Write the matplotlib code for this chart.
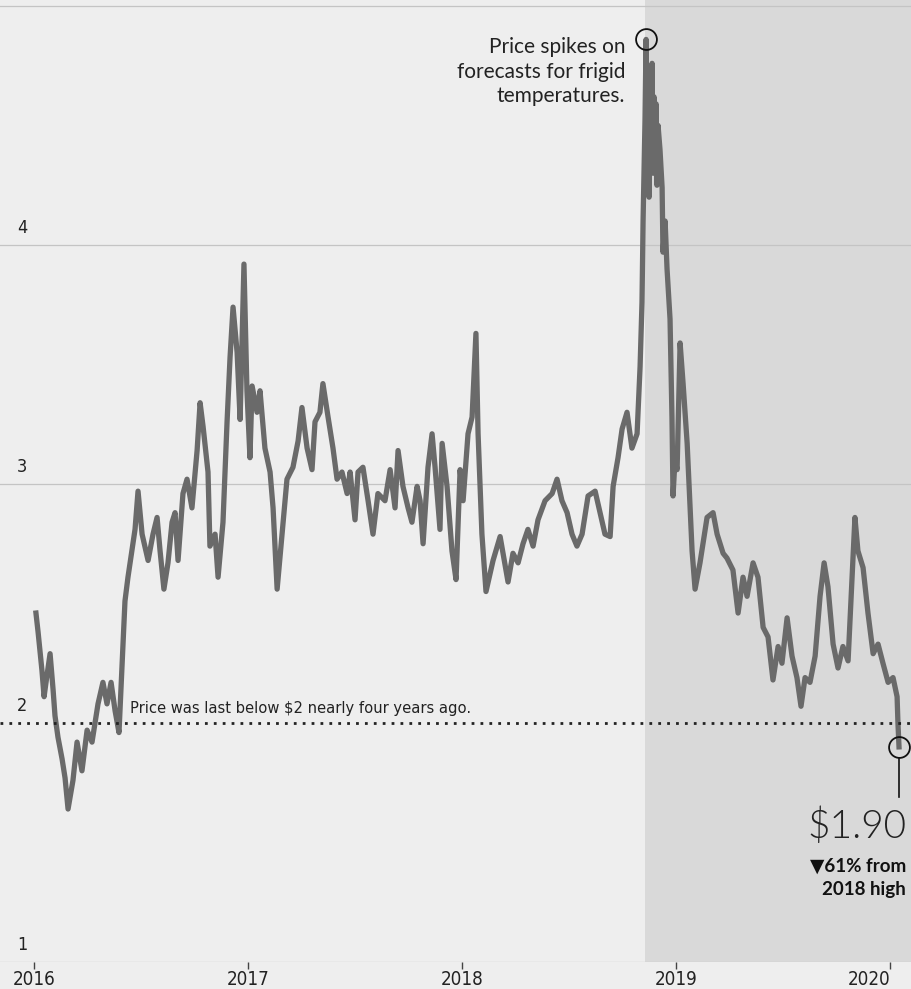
import matplotlib.pyplot as plt
from matplotlib.transforms import blended_transform_factory

# front-month natural gas price, $/MMBtu, x = decimal year
years = [2016.009, 2016.019, 2016.028, 2016.037, 2016.047, 2016.056, 2016.075, 2016.089,
         2016.098, 2016.112, 2016.131, 2016.145, 2016.159, 2016.182, 2016.201, 2016.224,
         2016.248, 2016.271, 2016.299, 2016.322, 2016.341, 2016.360, 2016.379, 2016.397,
         2016.411, 2016.425, 2016.439, 2016.472, 2016.486, 2016.505, 2016.533, 2016.556,
         2016.575, 2016.589, 2016.607, 2016.626, 2016.645, 2016.659, 2016.673, 2016.696,
         2016.715, 2016.738, 2016.762, 2016.776, 2016.790, 2016.813, 2016.822, 2016.846,
         2016.860, 2016.883, 2016.902, 2016.916, 2016.930, 2016.949, 2016.963, 2016.972,
         2016.981, 2016.995, 2017.009, 2017.019, 2017.042, 2017.056, 2017.079, 2017.103,
         2017.117, 2017.136, 2017.159, 2017.182, 2017.210, 2017.234, 2017.252, 2017.276,
         2017.299, 2017.313, 2017.336, 2017.350, 2017.374, 2017.397, 2017.416, 2017.439,
         2017.463, 2017.477, 2017.500, 2017.514, 2017.537, 2017.561, 2017.584, 2017.607,
         2017.640, 2017.664, 2017.687, 2017.701, 2017.724, 2017.748, 2017.766, 2017.790,
         2017.804, 2017.818, 2017.841, 2017.860, 2017.874, 2017.897, 2017.907, 2017.930,
         2017.953, 2017.972, 2017.991, 2018.005, 2018.028, 2018.047, 2018.065, 2018.075,
         2018.093, 2018.112, 2018.145, 2018.178, 2018.215, 2018.238, 2018.262, 2018.285,
         2018.308, 2018.332, 2018.355, 2018.388, 2018.421, 2018.444, 2018.467, 2018.491,
         2018.514, 2018.537, 2018.561, 2018.589, 2018.622, 2018.645, 2018.668, 2018.692,
         2018.706, 2018.729, 2018.748, 2018.771, 2018.794, 2018.818, 2018.832, 2018.841,
         2018.846, 2018.855, 2018.860, 2018.864, 2018.869, 2018.874, 2018.878, 2018.883,
         2018.888, 2018.893, 2018.897, 2018.902, 2018.907, 2018.911, 2018.916, 2018.925,
         2018.935, 2018.939, 2018.949, 2018.958, 2018.972, 2018.981, 2018.986, 2018.995,
         2019.005, 2019.019, 2019.033, 2019.052, 2019.075, 2019.089, 2019.112, 2019.145,
         2019.173, 2019.192, 2019.220, 2019.238, 2019.266, 2019.290, 2019.313, 2019.332,
         2019.360, 2019.383, 2019.407, 2019.430, 2019.453, 2019.477, 2019.495, 2019.519,
         2019.542, 2019.565, 2019.584, 2019.603, 2019.626, 2019.650, 2019.673, 2019.692,
         2019.710, 2019.734, 2019.757, 2019.780, 2019.804, 2019.822, 2019.836, 2019.850,
         2019.874, 2019.897, 2019.921, 2019.944, 2019.967, 2019.991, 2020.014, 2020.033,
         2020.037, 2020.042]
prices = [2.46, 2.38, 2.30, 2.22, 2.11, 2.17, 2.29, 2.14,
          2.03, 1.94, 1.85, 1.77, 1.64, 1.76, 1.92, 1.80,
          1.97, 1.92, 2.08, 2.17, 2.08, 2.17, 2.05, 1.96,
          2.23, 2.51, 2.61, 2.81, 2.97, 2.79, 2.68, 2.79,
          2.86, 2.72, 2.56, 2.67, 2.84, 2.88, 2.68, 2.96,
          3.02, 2.90, 3.14, 3.34, 3.24, 3.05, 2.74, 2.79,
          2.61, 2.84, 3.26, 3.53, 3.74, 3.55, 3.27, 3.60,
          3.92, 3.39, 3.11, 3.41, 3.30, 3.39, 3.15, 3.05,
          2.90, 2.56, 2.79, 3.02, 3.07, 3.18, 3.32, 3.15,
          3.06, 3.26, 3.30, 3.42, 3.28, 3.15, 3.02, 3.05,
          2.96, 3.05, 2.85, 3.05, 3.07, 2.93, 2.79, 2.96,
          2.93, 3.06, 2.90, 3.14, 2.99, 2.90, 2.84, 2.99,
          2.93, 2.75, 3.07, 3.21, 3.07, 2.81, 3.17, 2.99,
          2.72, 2.60, 3.06, 2.93, 3.21, 3.28, 3.63, 3.21,
          2.79, 2.55, 2.68, 2.78, 2.59, 2.71, 2.67, 2.75,
          2.81, 2.74, 2.85, 2.93, 2.96, 3.02, 2.93, 2.88,
          2.79, 2.74, 2.79, 2.95, 2.97, 2.88, 2.79, 2.78,
          2.99, 3.11, 3.23, 3.30, 3.15, 3.21, 3.49, 3.76,
          4.10, 4.52, 4.86, 4.35, 4.66, 4.20, 4.55, 4.40,
          4.76, 4.30, 4.62, 4.45, 4.59, 4.25, 4.50, 4.40,
          4.24, 3.97, 4.10, 3.90, 3.69, 3.28, 2.95, 3.10,
          3.06, 3.59, 3.42, 3.17, 2.72, 2.56, 2.67, 2.86,
          2.88, 2.79, 2.71, 2.69, 2.64, 2.46, 2.61, 2.53,
          2.67, 2.61, 2.40, 2.36, 2.18, 2.32, 2.25, 2.44,
          2.28, 2.19, 2.07, 2.19, 2.17, 2.28, 2.53, 2.67,
          2.57, 2.33, 2.23, 2.32, 2.26, 2.60, 2.86, 2.72,
          2.65, 2.46, 2.29, 2.33, 2.25, 2.17, 2.19, 2.11,
          2.00, 1.90]

year_ticks = [2016, 2017, 2018, 2019, 2020]
price_ticks = [1, 2, 3, 4]
shade_start = 2018.855   # darker panel from the November 2018 spike on
threshold = 2

narrow = dict(family=['DejaVu Sans'], stretch='condensed')
sans = ['Lato', 'DejaVu Sans']

fig = plt.figure(figsize=(9.11, 9.89), dpi=100, facecolor='#eeeeee')
ax = fig.add_axes([0, 27 / 989, 1, 962 / 989])
ax.set_facecolor('#eeeeee')
ax.set_xlim(2015.841, 2020.098)
ax.set_ylim(1, 5.025)
for s in ax.spines.values():
    s.set_visible(False)

ax.axvspan(shade_start, 2020.2, color='#d9d9d9', zorder=0, lw=0)

# gridlines + labels sitting on top of them
ytrans = blended_transform_factory(ax.transAxes, ax.transData)
ax.axhline(5, color='#c4c4c4', lw=0.9, zorder=1)
for v in price_ticks:
    if v != threshold:
        ax.axhline(v, color='#c4c4c4', lw=0.9, zorder=1)
    ax.text(0.019, v + 0.035, str(v), transform=ytrans, fontsize=13,
            va='bottom', ha='left', color='#222222', **narrow)
ax.set_yticks([])

ax.set_xticks(year_ticks)
ax.set_xticklabels([str(y) for y in year_ticks], fontsize=13.5, color='#222222', **narrow)
ax.tick_params(axis='x', length=5, width=1, color='#444444', pad=1)
ax.get_xticklabels()[-1].set_ha('right')
ax.get_xticklabels()[-1].set_x(2020.08)

ax.axhline(threshold, color='#222222', lw=2, ls=(0, (1, 2.2)), zorder=4)
ax.text(2016.449, threshold + 0.03, 'Price was last below $2 nearly four years ago.',
        fontsize=11.8, va='bottom', ha='left', color='#222222', **narrow)

ax.plot(years, prices, color='#6a6a6a', lw=3.8, solid_joinstyle='round', zorder=3)

# peak annotation
i_peak = prices.index(max(prices))
px, py = years[i_peak], prices[i_peak]
ax.plot(px, py, 'o', ms=15, mfc='none', mec='#111111', mew=1.3, zorder=5)
ax.text(px - 0.098, py + 0.01, 'Price spikes on\nforecasts for frigid\ntemperatures.',
        fontsize=15, family=sans, ha='right', va='top', linespacing=1.28,
        color='#222222')

# latest price annotation
lx, ly = years[-1], prices[-1]
ax.plot(lx, ly, 'o', ms=15, mfc='none', mec='#111111', mew=1.3, zorder=5)
ax.plot([lx, lx], [ly - 0.045, 1.69], color='#111111', lw=1.2, zorder=5)
ax.text(2020.075, 1.57, f'${ly:.2f}', fontsize=28, family=sans, fontweight=300,
        ha='right', va='center', color='#222222')
ax.text(2020.075, 1.435, '▼61% from\n2018 high', fontsize=13.5, family=sans,
        fontweight='bold', ha='right', va='top', linespacing=1.4, color='#111111')

fig.savefig('out.png', dpi=100, facecolor=fig.get_facecolor())
